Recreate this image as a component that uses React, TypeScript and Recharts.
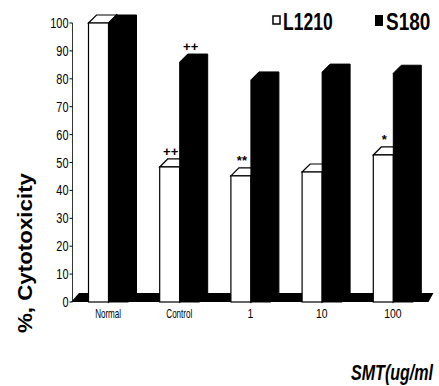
import { BarChart, Bar, XAxis, YAxis, ReferenceArea, LabelList } from 'recharts';

const categories = ['Normal', 'Control', '1', '10', '100'];
const l1210 = [100, 48.4, 45.2, 46.6, 52.7];
const s180 = [100, 86, 79.6, 82.4, 82];
const l1210Marks = ['', '++', '**', '', '*'];
const s180Marks = ['', '++', '', '', ''];
const yTicks = [0, 10, 20, 30, 40, 50, 60, 70, 80, 90, 100];

const data = categories.map((c, i) => ({
  name: c,
  l1210: l1210[i],
  s180: s180[i],
  lMark: l1210Marks[i],
  sMark: s180Marks[i],
}));

const D = 8; // depth of the fake 3D box
const FONT = "Arial, 'Liberation Sans', sans-serif";

function WhiteBox(props: any) {
  const { x, y, width: w, height: h } = props;
  if (w == null || h == null) return null;
  return (
    <g>
      <polygon
        points={`${x + w},${y} ${x + w + D},${y - D} ${x + w + D},${y + h - D} ${x + w},${y + h}`}
        fill="#fff"
        stroke="#000"
        strokeWidth={1.2}
      />
      <polygon
        points={`${x},${y} ${x + D},${y - D} ${x + w + D},${y - D} ${x + w},${y}`}
        fill="#fff"
        stroke="#000"
        strokeWidth={1.2}
      />
      <rect x={x} y={y} width={w} height={h} fill="#fff" stroke="#000" strokeWidth={1.2} />
    </g>
  );
}

function BlackBox(props: any) {
  const { x, y, width: w, height: h } = props;
  if (w == null || h == null) return null;
  return (
    <polygon
      points={`${x},${y + h} ${x},${y} ${x + D},${y - D} ${x + w + D},${y - D} ${x + w + D},${y + h - D} ${x + w},${y + h}`}
      fill="#000"
      stroke="#000"
      strokeWidth={1}
    />
  );
}

function Floor(props: any) {
  const { x, y, width: w, height: h } = props;
  return (
    <polygon
      points={`${x - 1.5},${y + h} ${x + 6.5},${y} ${x + w + 5},${y} ${x + w},${y + h}`}
      fill="#000"
    />
  );
}

// condensed look: squeeze text horizontally since no narrow font is installed
function XTick(props: any) {
  const { x, y, payload } = props;
  const s = String(payload.value);
  const sx = /^\d+$/.test(s) ? 0.8 : 0.62;
  return (
    <text
      transform={`translate(${x},${y + 14}) scale(${sx},1)`}
      textAnchor="middle"
      fontSize={13}
      fontFamily={FONT}
      fill="#000"
    >
      {s}
    </text>
  );
}

function YTick(props: any) {
  const { x, y, payload } = props;
  const s = String(payload.value);
  return (
    <text
      transform={`translate(${x},${y + 5}) scale(0.78,1)`}
      textAnchor="end"
      fontSize={14}
      fontFamily={FONT}
      fill="#000"
    >
      {s}
    </text>
  );
}

const markContent = (props: any) => {
  const { x, y, width: w, value } = props;
  if (!value) return null;
  return (
    <text
      x={x + w / 2 + 1}
      y={y - 11}
      textAnchor="middle"
      fontSize={13}
      fontWeight="bold"
      fontFamily={FONT}
      fill="#000"
    >
      {value}
    </text>
  );
};

function ChartLegend() {
  return (
    <svg width={168} height={30} style={{ position: 'absolute', left: 271, top: 6 }}>
      <rect x={2} y={10} width={7} height={8} fill="#fff" stroke="#000" strokeWidth={1.5} />
      <text transform="translate(12,24) scale(0.73,1)" fontSize={24} fontWeight="bold" fontFamily={FONT} fill="#000">
        L1210
      </text>
      <rect x={104} y={9} width={8} height={11} fill="#000" />
      <text transform="translate(115,24) scale(0.79,1)" fontSize={24} fontWeight="bold" fontFamily={FONT} fill="#000">
        S180
      </text>
    </svg>
  );
}

export default function App() {
  return (
    <div style={{ position: 'absolute', left: 0, top: 0, width: 439, height: 386, background: '#fff' }}>
      <BarChart
        width={439}
        height={386}
        data={data}
        margin={{ top: 23, right: 10.5, left: 32.5, bottom: 54 }}
        barGap={0}
        barSize={20}
      >
        <XAxis
          dataKey="name"
          axisLine={false}
          tickLine={false}
          tickSize={0}
          height={30}
          interval={0}
          tick={<XTick />}
          label={{
            content: () => (
              <text
                transform="translate(351,380) scale(0.73,1)"
                fontSize={22}
                fontWeight="bold"
                fontStyle="italic"
                fontFamily={FONT}
                fill="#000"
              >
                SMT(ug/ml
              </text>
            ),
          }}
        />
        <YAxis
          domain={[0, 100]}
          ticks={yTicks}
          width={40}
          tickSize={3}
          tickMargin={1}
          axisLine={{ stroke: '#000', strokeWidth: 0.8 }}
          tickLine={{ stroke: '#000' }}
          tick={<YTick />}
          label={{
            content: () => (
              <text
                x={32}
                y={253}
                transform="rotate(-90, 32, 253)"
                textAnchor="middle"
                fontSize={21}
                fontWeight="bold"
                fontFamily={FONT}
                textLength={160}
                lengthAdjust="spacingAndGlyphs"
                fill="#000"
              >
                %, Cytotoxicity
              </text>
            ),
          }}
        />
        <ReferenceArea y1={0} y2={3.2} shape={Floor} ifOverflow="visible" />
        <Bar dataKey="l1210" name="L1210" fill="#fff" shape={WhiteBox} isAnimationActive={false}>
          <LabelList dataKey="lMark" content={markContent} />
        </Bar>
        <Bar dataKey="s180" name="S180" fill="#000" shape={BlackBox} isAnimationActive={false}>
          <LabelList dataKey="sMark" content={markContent} />
        </Bar>
      </BarChart>
      <ChartLegend />
    </div>
  );
}
